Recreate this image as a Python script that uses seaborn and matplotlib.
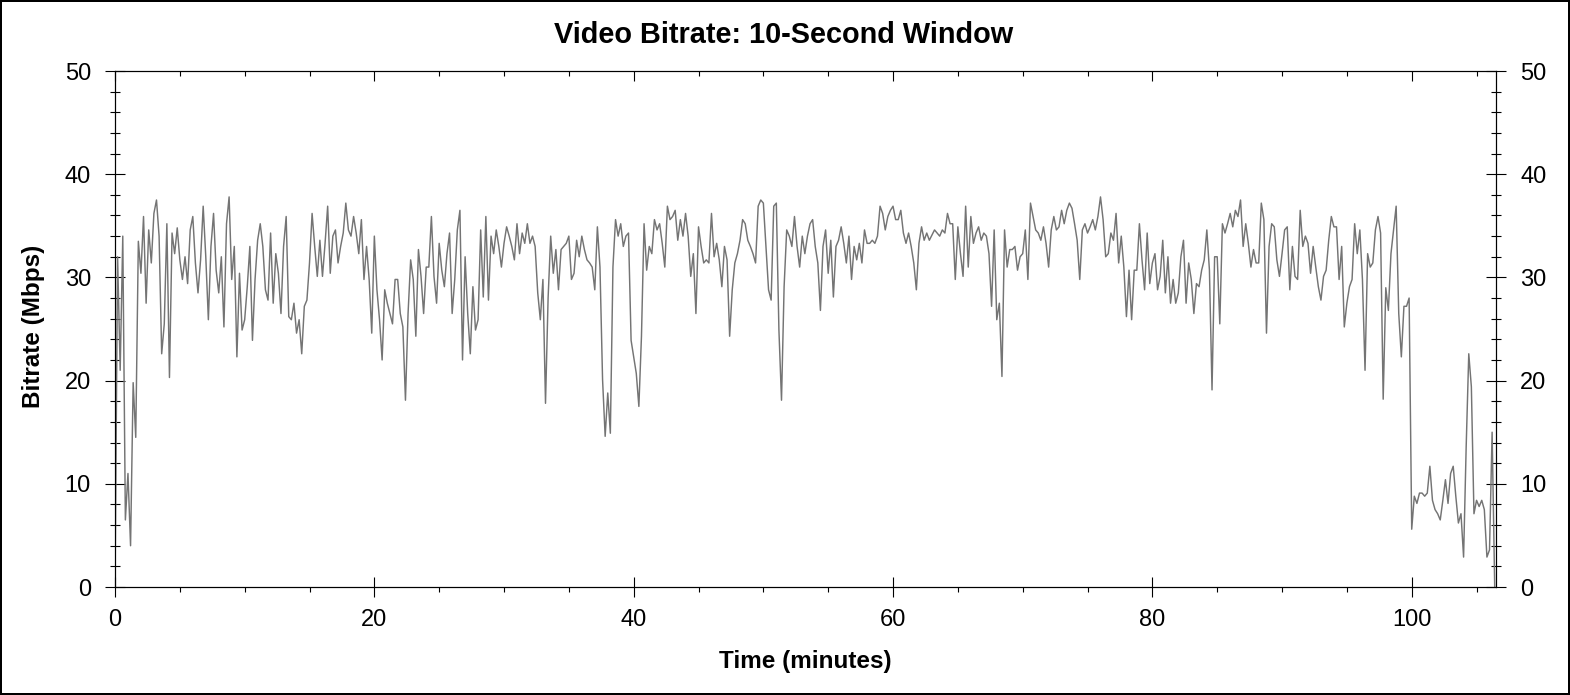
import numpy as np
import pandas as pd
import matplotlib
matplotlib.use("Agg")
import matplotlib.pyplot as plt
from matplotlib.ticker import MultipleLocator
import seaborn as sns

# ---------------- data (Mbps, one value every 0.2 minutes) ----------------
SAMPLE_STEP_MIN = 0.2

bitrate_00_10 = [0.0, 32.0, 21.0, 34.0, 6.5, 11.0, 4.0, 19.8, 14.5, 33.5,
                 30.4, 35.9, 27.5, 34.6, 31.4, 36.2, 37.5, 34.0, 22.6, 25.5,
                 35.2, 20.3, 34.3, 32.3, 34.8, 31.7, 29.8, 32.0, 29.4, 34.6,
                 35.9, 31.4, 28.5, 31.7, 36.9, 32.0, 25.9, 33.0, 36.2, 30.7,
                 28.5, 32.0, 25.2, 35.2, 37.8, 29.8, 33.0, 22.3, 30.4, 24.9]
bitrate_10_20 = [25.9, 29.1, 33.0, 23.9, 29.8, 33.6, 35.2, 33.0, 28.8, 27.8,
                 34.3, 27.5, 32.3, 30.4, 26.5, 33.0, 35.9, 26.2, 25.9, 27.5,
                 24.6, 25.9, 22.6, 27.2, 27.8, 31.4, 36.2, 33.0, 30.1, 33.6,
                 30.1, 33.3, 36.9, 30.4, 34.0, 34.6, 31.4, 33.0, 34.3, 37.2,
                 34.6, 34.0, 35.9, 34.3, 32.3, 35.6, 29.8, 33.0, 29.8, 24.6]
bitrate_20_30 = [34.0, 28.8, 25.9, 22.0, 28.8, 27.5, 26.5, 25.5, 29.8, 29.8,
                 26.5, 25.2, 18.1, 26.5, 31.7, 29.8, 24.3, 32.7, 30.1, 26.5,
                 31.0, 31.0, 35.9, 30.1, 27.5, 33.3, 30.7, 29.1, 32.3, 34.3,
                 26.5, 29.8, 34.6, 36.5, 22.0, 32.0, 26.5, 22.6, 29.1, 24.9,
                 25.9, 34.6, 28.1, 35.9, 27.8, 34.0, 32.3, 34.6, 33.0, 31.0]
bitrate_30_40 = [33.3, 34.9, 34.0, 33.0, 31.7, 35.2, 32.3, 34.3, 33.3, 35.2,
                 33.3, 34.0, 33.0, 28.5, 25.9, 29.8, 17.8, 28.0, 34.0, 30.4,
                 32.7, 28.8, 32.7, 33.0, 33.3, 34.0, 29.8, 30.4, 33.6, 32.0,
                 34.0, 32.7, 31.7, 31.4, 31.0, 28.8, 34.9, 31.0, 20.1, 14.6,
                 18.8, 14.9, 31.0, 35.6, 34.0, 35.2, 33.0, 34.0, 34.3, 23.9]
bitrate_40_50 = [22.3, 20.7, 17.5, 24.3, 35.2, 30.7, 33.0, 32.3, 35.6, 34.6,
                 35.2, 33.3, 31.0, 36.9, 35.6, 35.9, 36.5, 33.6, 35.6, 34.0,
                 36.2, 34.0, 30.1, 32.3, 26.5, 34.9, 33.0, 31.4, 31.7, 31.4,
                 36.2, 32.0, 33.3, 31.7, 29.1, 33.0, 31.7, 24.3, 28.8, 31.4,
                 32.3, 33.6, 35.6, 35.2, 33.6, 33.0, 32.3, 31.4, 36.9, 37.5]
bitrate_50_60 = [37.2, 33.0, 28.8, 27.8, 36.9, 37.2, 24.9, 18.1, 29.1, 34.6,
                 34.0, 33.0, 35.9, 33.0, 31.0, 34.0, 32.3, 34.0, 35.2, 35.6,
                 33.0, 31.4, 26.8, 33.0, 34.6, 30.4, 33.6, 28.1, 33.0, 33.6,
                 34.9, 33.3, 31.4, 34.0, 29.8, 33.0, 31.7, 33.3, 31.4, 34.6,
                 33.3, 33.3, 33.6, 33.3, 34.0, 36.9, 36.2, 34.6, 35.9, 36.5]
bitrate_60_70 = [36.9, 35.6, 35.6, 36.5, 34.3, 33.3, 34.3, 33.0, 31.4, 28.8,
                 33.3, 34.9, 33.6, 34.3, 33.6, 34.1, 34.6, 34.3, 34.0, 34.6,
                 34.3, 36.2, 35.2, 35.2, 29.8, 34.9, 32.3, 30.1, 36.9, 31.0,
                 35.9, 33.3, 34.3, 34.9, 33.6, 34.3, 34.0, 32.3, 27.2, 34.6,
                 25.9, 27.5, 20.4, 34.6, 31.0, 32.7, 32.7, 33.0, 30.7, 32.0]
bitrate_70_80 = [32.3, 34.6, 29.8, 37.2, 35.9, 34.6, 34.3, 33.6, 34.9, 33.3,
                 31.0, 34.6, 35.9, 34.6, 34.9, 36.5, 35.2, 36.5, 37.2, 36.7,
                 35.2, 33.6, 29.8, 34.6, 35.2, 34.3, 34.9, 35.6, 34.6, 35.9,
                 37.8, 35.6, 32.0, 32.3, 34.3, 33.6, 36.2, 31.4, 34.0, 31.0,
                 26.2, 30.7, 25.9, 30.7, 30.7, 35.2, 31.7, 28.8, 34.3, 29.4]
bitrate_80_90 = [31.4, 32.3, 28.8, 30.1, 33.6, 28.5, 32.0, 27.5, 29.8, 27.5,
                 28.5, 32.0, 33.6, 27.5, 31.4, 29.8, 26.5, 29.4, 29.1, 30.7,
                 31.7, 34.6, 30.7, 19.1, 32.0, 32.0, 25.5, 35.2, 34.3, 35.2,
                 36.2, 34.9, 36.5, 35.9, 37.5, 33.0, 35.2, 33.3, 31.0, 32.7,
                 31.4, 31.4, 37.2, 35.6, 24.6, 33.0, 35.2, 34.9, 31.7, 30.1]
bitrate_90_100 = [32.3, 34.6, 34.9, 28.8, 33.0, 30.1, 29.8, 36.5, 33.0, 34.0,
                  33.3, 30.4, 33.0, 31.0, 29.1, 27.8, 30.1, 30.7, 33.6, 35.9,
                  34.9, 34.9, 29.8, 33.0, 25.2, 27.5, 29.1, 29.8, 35.2, 32.3,
                  34.6, 29.8, 21.0, 32.3, 31.0, 31.4, 34.6, 35.9, 34.3, 18.2,
                  29.0, 26.8, 32.3, 34.6, 36.9, 26.5, 22.3, 27.2, 27.2, 28.0]
bitrate_100_end = [5.6, 8.8, 8.1, 9.1, 9.1, 8.8, 9.1, 11.7, 8.4, 7.5,
                   7.1, 6.5, 8.4, 10.4, 8.1, 11.0, 11.7, 8.8, 6.2, 7.1,
                   2.9, 13.6, 22.6, 19.4, 7.1, 8.4, 7.8, 8.4, 7.5, 2.9,
                   3.6, 15.0, 0.0]

bitrate = (bitrate_00_10 + bitrate_10_20 + bitrate_20_30 + bitrate_30_40 +
           bitrate_40_50 + bitrate_50_60 + bitrate_60_70 + bitrate_70_80 +
           bitrate_80_90 + bitrate_90_100 + bitrate_100_end)
time_min = np.round(np.arange(len(bitrate)) * SAMPLE_STEP_MIN, 1)

x_ticks_major = [0, 20, 40, 60, 80, 100]
y_ticks_major = [0, 10, 20, 30, 40, 50]

title_text = "Video Bitrate: 10-Second Window"
x_label = "Time (minutes)"
y_label = "Bitrate (Mbps)"

df = pd.DataFrame({"time": time_min, "bitrate": bitrate})

# ---------------- style ----------------
sns.set_style("white")
plt.rcParams["font.family"] = ["Liberation Sans", "DejaVu Sans"]
plt.rcParams["axes.edgecolor"] = "black"
plt.rcParams["xtick.color"] = "black"
plt.rcParams["ytick.color"] = "black"
plt.rcParams["text.color"] = "black"

W, H = 1570, 695
fig = plt.figure(figsize=(W / 100, H / 100), dpi=100, facecolor="white",
                 edgecolor="black", linewidth=1.5)
left, right, top, bottom = 115, 1496, 71, 587
ax = fig.add_axes([left / W, 1 - bottom / H, (right - left) / W, (bottom - top) / H])

sns.lineplot(data=df, x="time", y="bitrate", ax=ax, color="#747474",
             linewidth=1.05, estimator=None)

ax.set_xlim(0, 106.5)
ax.set_ylim(0, 50)
ax.set_xticks(x_ticks_major)
ax.set_yticks(y_ticks_major)
ax.xaxis.set_minor_locator(MultipleLocator(5))
ax.yaxis.set_minor_locator(MultipleLocator(2))
ax.set_xlabel("")
ax.set_ylabel("")

ax.tick_params(axis="y", which="major", direction="inout", length=13.7, width=0.8,
               left=True, right=True, labelleft=True, labelright=True,
               labelsize=17, pad=10.5)
ax.tick_params(axis="y", which="minor", direction="inout", length=6.5, width=0.8,
               left=True, right=True)
ax.tick_params(axis="x", which="major", direction="inout", length=14.4, width=0.8,
               bottom=True, top=False, labelsize=17, pad=9)
ax.tick_params(axis="x", which="minor", direction="out", length=3.6, width=0.8,
               bottom=True, top=False)
for s in ax.spines.values():
    s.set_linewidth(0.8)
    s.set_color("black")

axt = ax.twiny()
axt.set_xlim(0, 106.5)
axt.set_xticks(x_ticks_major)
axt.xaxis.set_minor_locator(MultipleLocator(5))
axt.tick_params(axis="x", which="major", direction="in", length=7.2, width=0.8,
                top=True, bottom=False, labeltop=False, labelbottom=False)
axt.tick_params(axis="x", which="minor", direction="in", length=3.6, width=0.8,
                top=True, bottom=False)
for s in axt.spines.values():
    s.set_linewidth(0.8)
    s.set_color("black")

fig.text(784 / W, 1 - 43.3 / H, title_text, ha="center", va="baseline",
         fontsize=20.8, fontweight="bold")
fig.text(805.5 / W, 1 - 667.7 / H, x_label, ha="center", va="baseline",
         fontsize=17.5, fontweight="bold")
fig.text(34 / W, 1 - 326 / H, y_label, ha="center", va="center", rotation=90,
         fontsize=17.5, fontweight="bold")

fig.savefig("out.png", dpi=100)
